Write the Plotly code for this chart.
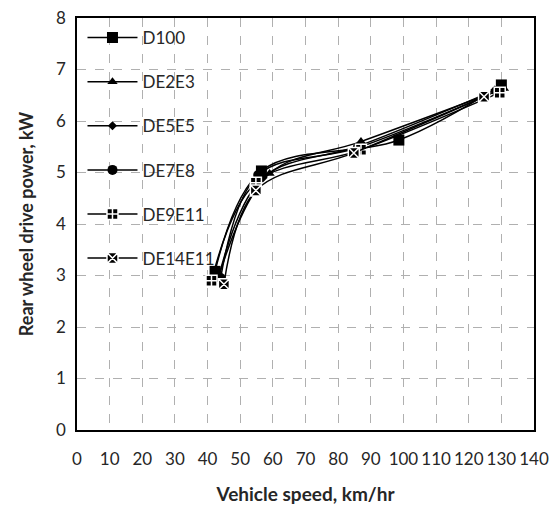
import plotly.graph_objects as go

series_names = ["D100", "DE2E3", "DE5E5", "DE7E8", "DE9E11", "DE14E11"]
speed = {
    "D100":    [42.3, 56.5, 98.6, 130.0],
    "DE2E3":   [43.5, 59.0, 87.0, 130.8],
    "DE5E5":   [43.5, 57.0, 86.5, 128.0],
    "DE7E8":   [44.0, 55.5, 86.0, 128.5],
    "DE9E11":  [41.2, 54.8, 87.0, 129.5],
    "DE14E11": [45.0, 54.8, 84.8, 124.7],
}
power = {
    "D100":    [3.08, 5.03, 5.63, 6.70],
    "DE2E3":   [3.00, 4.98, 5.60, 6.63],
    "DE5E5":   [3.00, 4.90, 5.52, 6.60],
    "DE7E8":   [2.95, 4.95, 5.48, 6.58],
    "DE9E11":  [2.90, 4.80, 5.44, 6.55],
    "DE14E11": [2.83, 4.65, 5.38, 6.47],
}
symbols = ["square", "triangle-up", "diamond", "circle", "square-cross", "square-x"]
sizes = [11, 9, 7, 10, 11, 11]

x_ticks = list(range(0, 141, 10))
y_ticks = list(range(0, 9, 1))

fig = go.Figure()
for i, name in enumerate(series_names):
    special = symbols[i] in ("square-cross", "square-x")
    fig.add_trace(go.Scatter(
        x=speed[name], y=power[name], name=name,
        mode="lines+markers",
        line=dict(color="black", width=1.5, shape="spline", smoothing=1.0),
        marker=dict(symbol=symbols[i], size=sizes[i], color="black",
                    line=dict(color="white" if special else "black", width=1.5 if special else 0)),
        legendgroup=name,
    ))

font_family = "Lato, Open Sans, sans-serif"
fig.update_layout(
    width=552, height=503,
    margin=dict(l=69, r=26, t=10, b=81),
    plot_bgcolor="white", paper_bgcolor="white",
    font=dict(family=font_family, color="#262626", size=16),
    showlegend=True,
    legend=dict(x=0.012, y=0.995, xanchor="left", yanchor="top",
                bgcolor="rgba(0,0,0,0)", font=dict(size=17, color="#262626"),
                tracegroupgap=19, traceorder="grouped", itemwidth=50),
    xaxis=dict(range=[0, 140], tickvals=x_ticks, ticktext=[str(v) for v in x_ticks],
               showgrid=True, gridcolor="#b0b0b0", griddash="dash", gridwidth=1,
               showline=True, linecolor="black", linewidth=1.5, mirror=True,
               zeroline=False, ticks="", automargin=False, ticklabelstandoff=13,
               ticklabeloverflow="allow",
               title=dict(text="<b>Vehicle speed, km/hr</b>", font=dict(size=19), standoff=20),
               tickfont=dict(size=17)),
    yaxis=dict(range=[0, 8], tickvals=y_ticks, ticktext=[str(v) for v in y_ticks],
               showgrid=True, gridcolor="#b0b0b0", griddash="dash", gridwidth=1,
               showline=True, linecolor="black", linewidth=1.5, mirror=True,
               zeroline=False, ticks="", automargin=False, ticklabelstandoff=6,
               ticklabeloverflow="allow",
               title=dict(text="<b>Rear wheel drive power, kW</b>", font=dict(size=18), standoff=18),
               tickfont=dict(size=17)),
)
fig.write_html("out.html")
